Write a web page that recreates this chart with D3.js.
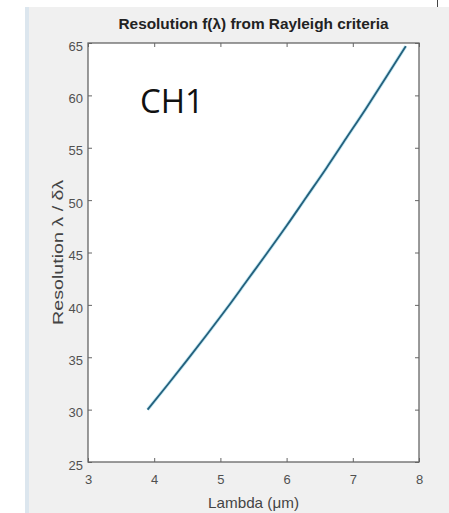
<!DOCTYPE html>
<html>
<head>
<meta charset="utf-8">
<script src="https://cdn.jsdelivr.net/npm/d3@7"></script>
<style>
  body { margin: 0; background: #fff; }
  svg { display: block; font-family: "Liberation Sans", Arial, sans-serif; }
</style>
</head>
<body>
<svg id="chart"></svg>
<script>
// values
const lambda = [3.9, 4.2, 4.5, 4.8, 5.1, 5.4, 5.7, 6.0, 6.3, 6.6, 6.9, 7.2, 7.5, 7.8];
const resolution = [30.0, 32.35, 34.75, 37.2, 39.7, 42.3, 44.9, 47.55, 50.3, 53.05, 55.9, 58.75, 61.7, 64.7];
const xTicks = [3, 4, 5, 6, 7, 8];
const yTicks = [25, 30, 35, 40, 45, 50, 55, 60, 65];

const W = 449, H = 513;
const margin = {top: 43, right: 30, bottom: 51, left: 88},
    width = W - margin.left - margin.right,
    height = H - margin.top - margin.bottom;

const root = d3.select("#chart")
    .attr("width", W)
    .attr("height", H);

// figure panel
root.append("rect")
    .attr("x", 25).attr("y", 7)
    .attr("width", W - 25).attr("height", H - 7)
    .attr("fill", "#f0f0f0");
root.append("rect")
    .attr("x", 25).attr("y", 7)
    .attr("width", 4).attr("height", H - 7)
    .attr("fill", "#dce6ee");
root.append("line")
    .attr("x1", 437.5).attr("x2", 437.5)
    .attr("y1", 0).attr("y2", 7)
    .attr("stroke", "#444");

const svg = root.append("g")
    .attr("transform", "translate(" + margin.left + "," + margin.top + ")");

const x = d3.scaleLinear().domain([3, 8]).range([0, width]);
const y = d3.scaleLinear().domain([25, 65]).range([height, 0]);

svg.append("rect")
    .attr("width", width).attr("height", height)
    .attr("fill", "#fff");

function styleAxis(g) {
    g.select(".domain").remove();
    g.selectAll(".tick line").attr("stroke", "#666");
    g.selectAll(".tick text")
        .attr("fill", "#505050")
        .attr("font-size", 13)
        .attr("font-family", "Liberation Sans, Arial, sans-serif");
}

svg.append("g")
    .attr("transform", "translate(0," + height + ")")
    .call(d3.axisBottom(x).tickValues(xTicks).tickFormat(d3.format("d")).tickSizeInner(-4).tickSizeOuter(0).tickPadding(13))
    .call(styleAxis);
svg.append("g")
    .call(d3.axisTop(x).tickValues(xTicks).tickFormat("").tickSizeInner(-4).tickSizeOuter(0))
    .call(styleAxis);
svg.append("g")
    .call(d3.axisLeft(y).tickValues(yTicks).tickFormat(d3.format("d")).tickSizeInner(-4).tickSizeOuter(0).tickPadding(5))
    .call(styleAxis)
    .selectAll(".tick text").attr("dy", "0.55em");
svg.append("g")
    .attr("transform", "translate(" + width + ",0)")
    .call(d3.axisRight(y).tickValues(yTicks).tickFormat("").tickSizeInner(-4).tickSizeOuter(0))
    .call(styleAxis);

svg.append("rect")
    .attr("width", width).attr("height", height)
    .attr("fill", "none")
    .attr("stroke", "#666")
    .attr("stroke-width", 1.3);

const line = d3.line()
    .x((d, i) => x(lambda[i]))
    .y(d => y(d))
    .curve(d3.curveMonotoneX);

svg.append("path")
    .datum(resolution)
    .attr("fill", "none")
    .attr("stroke", "#c4e8f3")
    .attr("stroke-width", 3.5)
    .attr("d", line);
svg.append("path")
    .datum(resolution)
    .attr("fill", "none")
    .attr("stroke", "#24607c")
    .attr("stroke-width", 1.8)
    .attr("d", line);

svg.append("text")
    .attr("x", 52).attr("y", 70)
    .attr("font-family", "Open Sans, sans-serif")
    .attr("font-size", 33)
    .attr("fill", "#111")
    .text("CH1");

svg.append("text")
    .attr("x", width / 2).attr("y", -14)
    .attr("text-anchor", "middle")
    .attr("font-size", 15)
    .attr("font-weight", "bold")
    .attr("textLength", 270)
    .attr("lengthAdjust", "spacingAndGlyphs")
    .attr("fill", "#222")
    .text("Resolution f(λ) from Rayleigh criteria");

svg.append("text")
    .attr("x", width / 2).attr("y", height + 46)
    .attr("text-anchor", "middle")
    .attr("font-size", 15)
    .attr("textLength", 91)
    .attr("lengthAdjust", "spacingAndGlyphs")
    .attr("fill", "#444")
    .text("Lambda (μm)");

svg.append("text")
    .attr("transform", "translate(-25," + (height / 2) + ") rotate(-90)")
    .attr("text-anchor", "middle")
    .attr("font-size", 15)
    .attr("textLength", 145)
    .attr("lengthAdjust", "spacingAndGlyphs")
    .attr("fill", "#444")
    .text("Resolution λ / δλ");
</script>
</body>
</html>
